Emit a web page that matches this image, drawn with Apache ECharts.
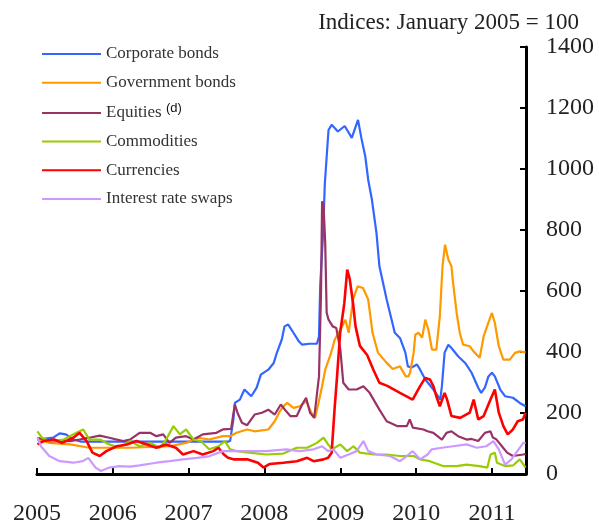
<!DOCTYPE html>
<html>
<head>
    <meta charset="utf-8">
    <script src="https://cdn.jsdelivr.net/npm/echarts@6/dist/echarts.min.js"></script>
    <style>
        html, body { margin: 0; padding: 0; background: #fff; }
    </style>
</head>
<body>

<div id="main" style="width: 599px;height:526px;"></div>

<script type="text/javascript">

    // series values: [date, index value]
    var corporateBonds = [
        ['2005-01-03',113],['2005-03-20',119],['2005-04-20',133],['2005-05-20',130],['2005-06-25',113],
        ['2005-08-01',106],['2006-06-01',106],['2007-07-10',106],['2007-07-20',108],['2007-08-05',180],
        ['2007-08-12',233],['2007-09-05',244],['2007-09-27',277],['2007-10-30',255],['2007-11-25',283],
        ['2007-12-15',326],['2008-01-20',342],['2008-02-15',364],['2008-03-01',397],['2008-03-25',441],
        ['2008-04-07',484],['2008-04-25',490],['2008-05-20',463],['2008-06-15',435],['2008-07-01',424],
        ['2008-08-05',427],['2008-09-10',427],['2008-09-20',451],['2008-09-26',620],['2008-10-10',790],
        ['2008-10-18',950],['2008-10-28',1050],['2008-11-05',1128],['2008-11-20',1145],['2008-12-20',1123],
        ['2009-01-22',1141],['2009-02-25',1102],['2009-03-27',1161],['2009-04-12',1102],['2009-05-01',1041],
        ['2009-05-15',965],['2009-06-02',899],['2009-06-24',790],['2009-07-08',681],['2009-08-12',572],
        ['2009-09-20',463],['2009-10-15',446],['2009-11-10',398],['2009-11-22',353],['2009-12-10',349],
        ['2010-01-05',359],['2010-01-20',342],['2010-02-14',310],['2010-03-25',277],['2010-04-27',244],
        ['2010-05-05',288],['2010-05-18',398],['2010-06-05',424],['2010-06-20',413],['2010-07-22',386],
        ['2010-08-25',364],['2010-09-25',332],['2010-10-27',283],['2010-11-10',266],['2010-11-28',283],
        ['2010-12-15',320],['2011-01-01',332],['2011-01-15',320],['2011-02-10',277],['2011-03-05',255],
        ['2011-04-12',250],['2011-05-15',233],['2011-06-12',222]
    ];

    var governmentBonds = [
        ['2005-01-03',113],['2005-03-01',102],['2005-06-10',97],['2005-09-10',86],['2006-03-25',86],
        ['2006-10-01',91],['2006-12-20',102],['2007-02-10',119],['2007-04-10',113],['2007-06-15',124],
        ['2007-07-20',124],['2007-08-20',135],['2007-10-10',146],['2007-11-15',140],['2008-01-20',146],
        ['2008-02-20',173],['2008-03-15',205],['2008-04-01',222],['2008-04-20',233],['2008-05-20',217],
        ['2008-06-20',222],['2008-07-20',239],['2008-08-15',200],['2008-09-01',184],['2008-09-20',240],
        ['2008-10-05',288],['2008-10-20',342],['2008-11-15',392],['2008-12-05',441],['2009-01-01',473],
        ['2009-01-25',506],['2009-02-10',463],['2009-03-03',572],['2009-03-25',615],['2009-04-20',610],
        ['2009-05-15',572],['2009-06-05',463],['2009-07-01',398],['2009-08-10',366],['2009-09-10',344],
        ['2009-10-15',353],['2009-11-12',320],['2009-11-25',320],['2009-12-03',333],['2009-12-20',398],
        ['2009-12-28',457],['2010-01-12',463],['2010-01-30',447],['2010-02-14',506],['2010-03-01',473],
        ['2010-03-18',408],['2010-04-08',408],['2010-04-25',517],['2010-05-08',681],['2010-05-20',752],
        ['2010-06-05',703],['2010-06-20',681],['2010-06-28',626],['2010-07-15',528],['2010-07-30',463],
        ['2010-08-15',424],['2010-09-16',419],['2010-10-04',402],['2010-11-03',381],['2010-11-22',451],
        ['2010-12-14',495],['2011-01-01',528],['2011-01-15',495],['2011-02-03',419],['2011-02-25',375],
        ['2011-03-28',375],['2011-04-22',397],['2011-05-15',402],['2011-06-12',399]
    ];

    var equities = [
        ['2005-01-03',119],['2005-03-01',108],['2005-06-10',108],['2005-07-25',113],['2005-09-10',119],
        ['2005-10-30',126],['2005-12-15',119],['2006-02-20',108],['2006-03-25',113],['2006-05-10',135],
        ['2006-06-30',135],['2006-07-30',124],['2006-09-01',130],['2006-10-01',102],['2006-11-01',119],
        ['2006-12-20',124],['2007-01-25',113],['2007-03-10',130],['2007-05-15',135],['2007-06-15',146],
        ['2007-07-25',148],['2007-08-03',190],['2007-08-12',228],['2007-08-25',200],['2007-09-15',168],
        ['2007-10-10',160],['2007-11-15',195],['2007-12-20',201],['2008-01-20',211],['2008-02-20',195],
        ['2008-03-20',228],['2008-04-10',210],['2008-05-05',190],['2008-06-05',190],['2008-07-01',228],
        ['2008-07-20',250],['2008-08-08',201],['2008-08-28',184],['2008-09-05',184],['2008-09-20',320],
        ['2008-09-30',600],['2008-10-05',894],['2008-10-12',880],['2008-10-20',758],['2008-10-27',529],
        ['2008-11-05',506],['2008-11-25',484],['2008-12-12',479],['2009-01-01',408],['2009-01-15',299],
        ['2009-02-10',277],['2009-03-20',277],['2009-04-22',288],['2009-05-22',266],['2009-07-08',211],
        ['2009-08-12',173],['2009-10-01',157],['2009-11-17',157],['2009-12-01',179],['2009-12-16',152],
        ['2010-02-05',146],['2010-02-25',140],['2010-03-25',135],['2010-05-05',113],['2010-05-27',135],
        ['2010-06-20',140],['2010-07-22',124],['2010-09-01',113],['2010-09-25',115],['2010-10-27',108],
        ['2010-11-28',135],['2010-12-25',140],['2011-01-05',120],['2011-01-20',115],['2011-02-18',91],
        ['2011-03-15',70],['2011-04-12',59],['2011-06-01',64],['2011-06-12',66]
    ];

    var commodities = [
        ['2005-01-03',140],['2005-01-25',119],['2005-03-01',108],['2005-05-10',113],['2005-07-10',135],
        ['2005-08-12',146],['2005-09-10',113],['2005-11-01',113],['2005-12-15',97],['2006-02-01',86],
        ['2006-03-25',108],['2006-05-10',91],['2006-07-01',102],['2006-08-15',86],['2006-09-15',113],
        ['2006-10-20',157],['2006-11-20',130],['2006-12-20',146],['2007-01-25',113],['2007-03-01',108],
        ['2007-04-10',81],['2007-05-25',91],['2007-06-25',108],['2007-07-20',81],['2007-08-20',75],
        ['2007-10-20',70],['2008-01-10',64],['2008-04-01',67],['2008-06-05',86],['2008-07-25',86],
        ['2008-09-10',102],['2008-10-12',119],['2008-11-03',97],['2008-11-22',81],['2009-01-01',97],
        ['2009-02-03',75],['2009-03-05',91],['2009-04-05',70],['2009-06-10',64],['2009-08-10',64],
        ['2009-10-15',59],['2009-12-20',59],['2010-01-20',48],['2010-03-08',42],['2010-05-10',26],
        ['2010-07-15',26],['2010-09-01',31],['2010-11-01',26],['2010-12-10',21],['2010-12-25',64],
        ['2011-01-15',70],['2011-01-25',37],['2011-03-05',26],['2011-04-12',28],['2011-05-15',48],
        ['2011-06-12',21]
    ];

    var currencies = [
        ['2005-01-03',97],['2005-02-01',108],['2005-03-25',113],['2005-05-01',102],['2005-06-25',119],
        ['2005-07-25',135],['2005-08-28',108],['2005-09-25',70],['2005-10-30',59],['2005-12-01',75],
        ['2006-01-20',91],['2006-03-10',97],['2006-04-25',108],['2006-06-15',97],['2006-07-30',86],
        ['2006-09-15',97],['2006-11-01',86],['2006-12-05',64],['2007-01-25',75],['2007-03-10',64],
        ['2007-04-30',75],['2007-05-25',86],['2007-06-20',64],['2007-07-10',53],['2007-08-05',48],
        ['2007-10-10',48],['2007-12-01',37],['2007-12-28',21],['2008-01-27',33],['2008-04-01',37],
        ['2008-06-05',42],['2008-07-25',53],['2008-08-25',42],['2008-10-12',48],['2008-11-03',53],
        ['2008-11-20',70],['2008-12-05',222],['2008-12-15',310],['2008-12-31',463],['2009-01-20',560],
        ['2009-02-03',670],['2009-02-15',640],['2009-03-03',560],['2009-03-15',484],['2009-04-05',420],
        ['2009-05-10',390],['2009-06-10',340],['2009-07-08',299],['2009-08-15',289],['2009-10-15',266],
        ['2009-12-15',244],['2010-01-20',288],['2010-02-14',315],['2010-03-08',310],['2010-03-25',288],
        ['2010-04-08',255],['2010-04-25',222],['2010-05-18',266],['2010-05-30',244],['2010-06-20',190],
        ['2010-08-01',184],['2010-09-16',201],['2010-10-05',244],['2010-10-27',179],['2010-11-22',190],
        ['2010-12-25',244],['2011-01-15',277],['2011-02-03',201],['2011-02-25',157],['2011-03-18',130],
        ['2011-04-12',146],['2011-05-05',173],['2011-05-30',179],['2011-06-12',201]
    ];

    var interestRateSwaps = [
        ['2005-01-03',119],['2005-01-20',91],['2005-03-01',59],['2005-04-20',42],['2005-06-25',37],
        ['2005-08-10',42],['2005-09-05',53],['2005-10-10',21],['2005-11-05',10],['2005-12-15',21],
        ['2006-02-01',26],['2006-03-25',24],['2006-05-10',28],['2006-07-30',37],['2006-10-01',42],
        ['2006-12-05',48],['2007-02-10',53],['2007-04-10',58],['2007-06-15',75],['2007-07-25',75],
        ['2007-10-10',75],['2008-01-10',75],['2008-04-15',81],['2008-06-20',75],['2008-08-25',81],
        ['2008-10-05',91],['2008-11-03',75],['2008-11-28',81],['2009-01-01',53],['2009-02-10',64],
        ['2009-03-20',75],['2009-04-22',108],['2009-05-15',75],['2009-06-25',64],['2009-08-28',59],
        ['2009-10-15',42],['2009-11-17',59],['2009-12-15',75],['2010-01-20',48],['2010-02-25',64],
        ['2010-03-17',81],['2010-05-05',86],['2010-06-28',91],['2010-09-01',97],['2010-10-20',86],
        ['2010-12-05',91],['2011-01-08',108],['2011-02-03',81],['2011-03-05',31],['2011-04-05',48],
        ['2011-04-28',70],['2011-06-01',102],['2011-06-12',102]
    ];

    var seriesNames = ['Corporate bonds', 'Government bonds', 'Equities', 'Commodities', 'Currencies', 'Interest rate swaps'];
    var seriesColors = ['#3366ff', '#ff9900', '#993366', '#99cc00', '#ff0000', '#cc99ff'];
    var seriesData = [corporateBonds, governmentBonds, equities, commodities, currencies, interestRateSwaps];

    var serif = '"Liberation Serif", "Times New Roman", serif';

    var myChart = echarts.init(document.getElementById('main'));

    var option = {
        animation: false,
        backgroundColor: '#fff',
        title: {
            text: 'Indices: January 2005 = 100',
            right: 15,
            top: 6,
            textStyle: { fontFamily: serif, fontSize: 23, fontWeight: 'normal', color: '#222' }
        },
        legend: {
            orient: 'vertical',
            left: 42,
            top: 45,
            padding: 0,
            itemWidth: 59,
            itemHeight: 2,
            itemGap: 10.7,
            icon: 'rect',
            data: seriesNames,
            formatter: function (name) {
                return name === 'Equities' ? 'Equities {sup|(d)}' : name;
            },
            textStyle: {
                fontFamily: serif,
                fontSize: 17,
                lineHeight: 18,
                color: '#333',
                rich: {
                    sup: { fontFamily: '"Liberation Sans", Arial, sans-serif', fontSize: 13, color: '#111', padding: [0, 0, 8, 0] }
                }
            }
        },
        grid: { left: 37, right: 73, top: 47, bottom: 51.4 },
        xAxis: {
            type: 'time',
            min: '2005-01-01',
            max: '2011-06-14',
            splitNumber: 7,
            axisLine: { lineStyle: { color: '#000', width: 3 } },
            axisTick: { inside: true, length: 6, lineStyle: { color: '#000', width: 2 } },
            axisLabel: {
                formatter: '{yyyy}',
                showMaxLabel: false,
                margin: 28,
                fontFamily: serif,
                fontSize: 24,
                color: '#222'
            },
            splitLine: { show: false }
        },
        yAxis: {
            type: 'value',
            position: 'right',
            min: 0,
            max: 1400,
            interval: 200,
            axisLine: { show: true, lineStyle: { color: '#000', width: 3 } },
            axisTick: { show: true, inside: true, length: 6, lineStyle: { color: '#000', width: 2 } },
            axisLabel: {
                margin: 20,
                fontFamily: serif,
                fontSize: 24,
                color: '#222',
                formatter: function (v) { return String(v); }
            },
            splitLine: { show: false }
        },
        series: seriesNames.map(function (name, i) {
            return {
                name: name,
                type: 'line',
                data: seriesData[i],
                symbol: 'none',
                color: seriesColors[i],
                lineStyle: { width: i === 4 ? 2.6 : 2.2, color: seriesColors[i] }
            };
        })
    };

    myChart.setOption(option);
</script>

</body>
</html>
